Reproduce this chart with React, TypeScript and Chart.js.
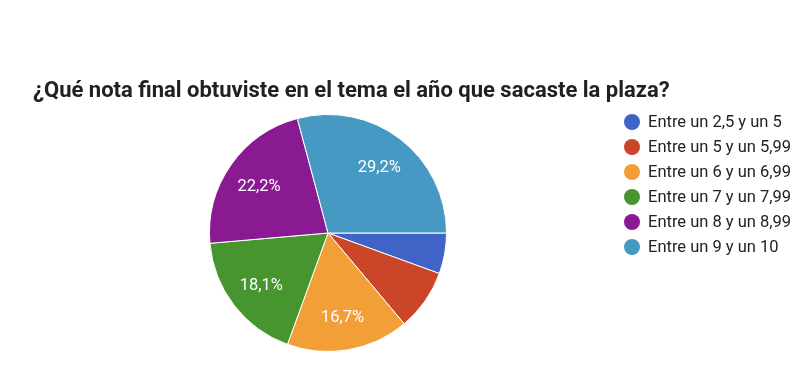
import React, { useEffect, useRef } from "react";
import { Chart, registerables } from "chart.js";

Chart.register(...registerables);

const TITLE = "¿Qué nota final obtuviste en el tema el año que sacaste la plaza?";
const categories = [
  "Entre un 2,5 y un 5",
  "Entre un 5 y un 5,99",
  "Entre un 6 y un 6,99",
  "Entre un 7 y un 7,99",
  "Entre un 8 y un 8,99",
  "Entre un 9 y un 10",
];
const responses = [4, 6, 12, 13, 16, 21];
const colors = ["#4063c6", "#cb4628", "#f29f38", "#46952f", "#8a1a92", "#4599c3"];

const fmtPct = (v: number, total: number) =>
  (Math.round((v / total) * 1000) / 10).toFixed(1).replace(".", ",") + "%";

const decorPlugin = {
  id: "decor",
  afterDraw(chart: any) {
    const ctx = chart.ctx as CanvasRenderingContext2D;
    ctx.save();
    // title
    ctx.fillStyle = "#212121";
    ctx.font = "bold 22px Roboto";
    ctx.textAlign = "left";
    ctx.textBaseline = "alphabetic";
    ctx.fillText(TITLE, 33, 97);

    // legend
    const labels = chart.data.labels as string[];
    const bg = chart.data.datasets[0].backgroundColor as string[];
    ctx.font = "16.5px Roboto";
    ctx.textBaseline = "middle";
    labels.forEach((lab, i) => {
      const y = 122 + i * 25;
      ctx.beginPath();
      ctx.arc(632, y, 8, 0, Math.PI * 2);
      ctx.fillStyle = bg[i];
      ctx.fill();
      ctx.fillStyle = "#222222";
      ctx.fillText(lab, 648, y + 1);
    });

    // slice labels
    const meta = chart.getDatasetMeta(0);
    const data = chart.data.datasets[0].data as number[];
    const total = data.reduce((a, b) => a + b, 0);
    ctx.font = "16.5px Roboto";
    ctx.fillStyle = "#ffffff";
    ctx.textAlign = "center";
    ctx.textBaseline = "middle";
    meta.data.forEach((arc: any, i: number) => {
      if (data[i] / total < 0.1) return;
      const { x, y, startAngle, endAngle, outerRadius } = arc.getProps(
        ["x", "y", "startAngle", "endAngle", "outerRadius"],
        true
      );
      const mid = (startAngle + endAngle) / 2;
      const r = outerRadius * 0.71;
      ctx.fillText(fmtPct(data[i], total), x + Math.cos(mid) * r, y + Math.sin(mid) * r + 2);
    });
    ctx.restore();
  },
};

export default function App() {
  const ref = useRef<HTMLCanvasElement | null>(null);
  useEffect(() => {
    if (!ref.current) return;
    const chart = new Chart(ref.current, {
      type: "pie",
      data: {
        labels: categories,
        datasets: [
          {
            data: responses,
            backgroundColor: colors,
            borderColor: "#ffffff",
            borderWidth: 1,
          },
        ],
      },
      options: {
        responsive: false,
        animation: false,
        rotation: 90,
        layout: { padding: { top: 114, bottom: 20, left: 128, right: 280 } },
        plugins: {
          legend: { display: false },
          title: { display: false },
          tooltip: { enabled: false },
        },
      },
      plugins: [decorPlugin],
    });
    return () => chart.destroy();
  }, []);
  return (
    <div style={{ position: "fixed", left: 0, top: 0, width: 808, height: 372, background: "#fff" }}>
      <canvas ref={ref} width={808} height={372} style={{ display: "block" }} />
    </div>
  );
}
